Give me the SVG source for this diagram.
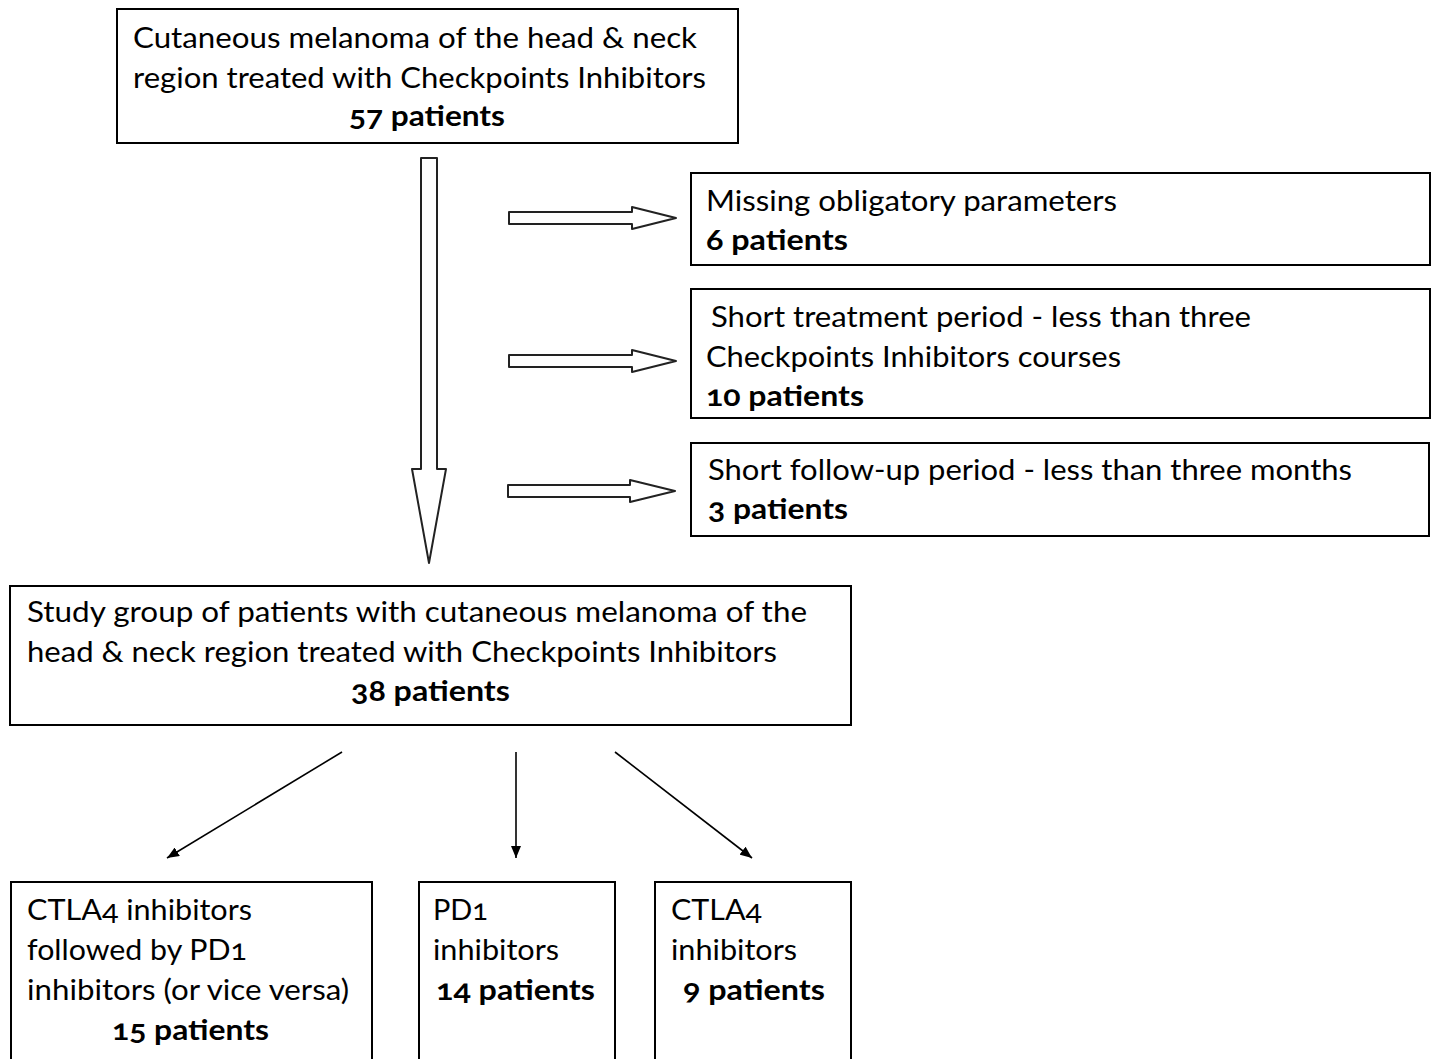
<svg xmlns="http://www.w3.org/2000/svg" width="1432" height="1059" viewBox="0 0 1432 1059">
<style>
.box{fill:#fff;stroke:#000;stroke-width:2}
.fat{fill:#fff;stroke:#222;stroke-width:2;stroke-linejoin:round}
.ln{stroke:#000;stroke-width:1.6;fill:none}
text{font-family:Lato,"Open Sans","Liberation Sans",sans-serif;font-size:29px;fill:#000;font-variant-numeric:oldstyle-nums}
.b{font-weight:bold}
</style>
<defs>
<marker id="ah" viewBox="0 0 12 10" refX="12" refY="5" markerWidth="12" markerHeight="10" markerUnits="userSpaceOnUse" orient="auto">
<path d="M0,0 L12,5 L0,10 Z" fill="#000"/>
</marker>
</defs>
<rect width="1432" height="1059" fill="#fff"/>
<g id="connectors">
<polygon class="fat" points="421,158 437,158 437,469 446,469 429,563 412,469 421,469"/>
<polygon class="fat" points="509,212 632,212 632,207 676,218 632,229 632,224 509,224"/>
<polygon class="fat" points="509,355 632,355 632,350 676,361 632,372 632,367 509,367"/>
<polygon class="fat" points="508,485 630,485 630,480 675,491 630,502 630,497 508,497"/>
<line class="ln" x1="342" y1="752" x2="167" y2="858" marker-end="url(#ah)"/>
<line class="ln" x1="516" y1="752" x2="516" y2="858" marker-end="url(#ah)"/>
<line class="ln" x1="615" y1="752" x2="752" y2="858" marker-end="url(#ah)"/>
</g>
<g id="n_top">
<rect class="box" x="117" y="9" width="621" height="134"/>
<text x="133" y="48" textLength="564" lengthAdjust="spacingAndGlyphs">Cutaneous  melanoma  of the head &amp; neck</text>
<text x="133" y="88" textLength="573" lengthAdjust="spacingAndGlyphs">region treated  with Checkpoints  Inhibitors</text>
<text class="b" x="349" y="126" textLength="156" lengthAdjust="spacingAndGlyphs">57 patients</text>
</g>
<g id="n_missing">
<rect class="box" x="691" y="173" width="739" height="92"/>
<text x="706" y="211" textLength="411" lengthAdjust="spacingAndGlyphs">Missing obligatory  parameters</text>
<text class="b" x="706" y="250" textLength="142" lengthAdjust="spacingAndGlyphs">6 patients</text>
</g>
<g id="n_short_treat">
<rect class="box" x="691" y="289" width="739" height="129"/>
<text x="711" y="327" textLength="540" lengthAdjust="spacingAndGlyphs">Short treatment  period  - less than three</text>
<text x="706" y="367" textLength="415" lengthAdjust="spacingAndGlyphs">Checkpoints  Inhibitors  courses</text>
<text class="b" x="706" y="406" textLength="158" lengthAdjust="spacingAndGlyphs">10 patients</text>
</g>
<g id="n_short_follow">
<rect class="box" x="691" y="443" width="738" height="93"/>
<text x="708" y="480" textLength="644" lengthAdjust="spacingAndGlyphs">Short follow-up period  - less than three months</text>
<text class="b" x="708" y="519" textLength="140" lengthAdjust="spacingAndGlyphs">3 patients</text>
</g>
<g id="n_study">
<rect class="box" x="10" y="586" width="841" height="139"/>
<text x="27" y="622" textLength="780" lengthAdjust="spacingAndGlyphs">Study group  of patients  with cutaneous  melanoma  of the</text>
<text x="27" y="662" textLength="750" lengthAdjust="spacingAndGlyphs">head &amp; neck  region treated  with Checkpoints  Inhibitors</text>
<text class="b" x="351" y="701" textLength="159" lengthAdjust="spacingAndGlyphs">38 patients</text>
</g>
<g id="n_combo">
<rect class="box" x="11" y="882" width="361" height="190"/>
<text x="27" y="920" textLength="225" lengthAdjust="spacingAndGlyphs">CTLA4 inhibitors</text>
<text x="27" y="960" textLength="220" lengthAdjust="spacingAndGlyphs">followed by PD1</text>
<text x="27" y="1000" textLength="322" lengthAdjust="spacingAndGlyphs">inhibitors (or vice versa)</text>
<text class="b" x="112" y="1040" textLength="157" lengthAdjust="spacingAndGlyphs">15 patients</text>
</g>
<g id="n_pd1">
<rect class="box" x="419" y="882" width="196" height="190"/>
<text x="433" y="920" textLength="55" lengthAdjust="spacingAndGlyphs">PD1</text>
<text x="433" y="960" textLength="126" lengthAdjust="spacingAndGlyphs">inhibitors</text>
<text class="b" x="436" y="1000" textLength="159" lengthAdjust="spacingAndGlyphs">14 patients</text>
</g>
<g id="n_ctla4">
<rect class="box" x="655" y="882" width="196" height="190"/>
<text x="671" y="920" textLength="91" lengthAdjust="spacingAndGlyphs">CTLA4</text>
<text x="671" y="960" textLength="126" lengthAdjust="spacingAndGlyphs">inhibitors</text>
<text class="b" x="683" y="1000" textLength="142" lengthAdjust="spacingAndGlyphs">9 patients</text>
</g>
</svg>
